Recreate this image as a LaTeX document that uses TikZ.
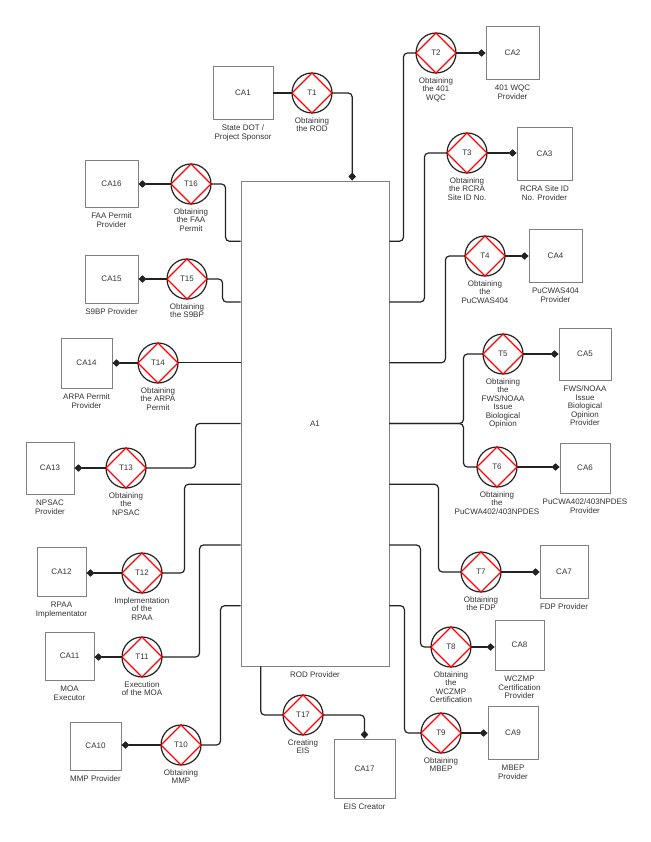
\documentclass[tikz,border=0pt]{standalone}
\usepackage{fontspec}
\setmainfont{Liberation Sans}
\usepackage{tikz}
\usetikzlibrary{calc,positioning}
\usetikzlibrary{arrows.meta}
\usepackage{xcolor}

\begin{document}
\begin{tikzpicture}[x=1pt,y=-1pt,>={Diamond[length=8pt,width=7.5pt]}]

% colors
\definecolor{lineBlack}{HTML}{222222}
\definecolor{boxGray}{HTML}{808080}
\definecolor{textGray}{HTML}{333333}
\definecolor{diamondRed}{HTML}{FF0000}

\def\labelFont{\fontsize{8}{8.4}\selectfont}

\tikzset{
    agent/.style={draw=boxGray, line width=0.9pt, fill=white, text=textGray, font=\labelFont, inner sep=0pt},
    task/.style={circle, draw=lineBlack, line width=1.2pt, fill=white, minimum size=40pt, inner sep=0pt, outer sep=0pt, text=textGray, font=\labelFont},
    link/.style={lineBlack, line width=1.2pt, rounded corners=4pt},
    caption/.style={text=textGray, font=\labelFont, align=center, inner sep=1pt},
}

% page size, y runs downwards
\useasboundingbox (0,0) rectangle (650,842);

% task: circle with the red diamond inside
\newcommand\taskNode[4]{
    % #1 name, #2 x, #3 y, #4 caption
    \node[task] (#1) at (#2,#3) {#1};
    \draw[diamondRed, line width=1.2pt] (#1.north) -- (#1.east) -- (#1.south) -- (#1.west) -- cycle;
    \node[caption, below=3.5pt of #1] (#1text) {#4};
}
% agent: plain box with caption below
\newcommand\agentNode[6]{
    % #1 name, #2 x, #3 y, #4 width, #5 height, #6 caption
    \node[agent, minimum width=#4pt, minimum height=#5pt] (#1) at (#2,#3) {#1};
    \node[caption, below=4.5pt of #1] (#1text) {#6};
}

% main actor
\node[agent, minimum width=148pt, minimum height=485pt] (A1) at (315,423.5) {A1};
\node[caption, below=4pt of A1] (A1text) {ROD Provider};

% docking points on A1
\coordinate (A1top) at ($(A1.north west)!0.75!(A1.north east)$);
\coordinate (A1bottom) at ($(A1.south west)!0.135!(A1.south east)$);
\foreach \k in {1,...,7} {
    \coordinate (A1east\k) at ($(A1.north east)!\k/8!(A1.south east)$);
    \coordinate (A1west\k) at ($(A1.north west)!\k/8!(A1.south west)$);
}

% tasks
\taskNode{T1}{312}{93}{Obtaining\\the ROD}
\taskNode{T2}{436}{53}{Obtaining\\the 401\\WQC}
\taskNode{T3}{467}{153}{Obtaining\\the RCRA\\Site ID No.}
\taskNode{T4}{485}{256}{Obtaining\\the\\PuCWAS404}
\taskNode{T5}{503}{354}{Obtaining\\the\\FWS/NOAA\\Issue\\Biological\\Opinion}
\taskNode{T6}{497}{467}{Obtaining\\the\\PuCWA402/403NPDES}
\taskNode{T7}{481}{572}{Obtaining\\the FDP}
\taskNode{T8}{451}{647}{Obtaining\\the\\WCZMP\\Certification}
\taskNode{T9}{441}{733}{Obtaining\\MBEP}
\taskNode{T10}{181}{745}{Obtaining\\MMP}
\taskNode{T11}{142}{657}{Execution\\of the MOA}
\taskNode{T12}{142}{573}{Implementation\\of the\\RPAA}
\taskNode{T13}{126}{468}{Obtaining\\the\\NPSAC}
\taskNode{T14}{158}{363}{Obtaining\\the ARPA\\Permit}
\taskNode{T15}{187}{279}{Obtaining\\the S9BP}
\taskNode{T16}{191}{184}{Obtaining\\the FAA\\Permit}
\taskNode{T17}{303}{715}{Creating\\EIS}

% agents
\agentNode{CA1}{243}{92.5}{60}{53}{State DOT /\\Project Sponsor}
\agentNode{CA2}{512.5}{52.5}{53}{53}{401 WQC\\Provider}
\agentNode{CA3}{544.5}{153.5}{55}{53}{RCRA Site ID\\No. Provider}
\agentNode{CA4}{555.5}{255.5}{53}{53}{PuCWAS404\\Provider}
\agentNode{CA5}{585}{354}{52}{52}{FWS/NOAA\\Issue\\Biological\\Opinion\\Provider}
\agentNode{CA6}{585}{468}{50}{50}{PuCWA402/403NPDES\\Provider}
\agentNode{CA7}{564}{571.5}{48}{53}{FDP Provider}
\agentNode{CA8}{519.5}{645}{49}{50}{WCZMP\\Certification\\Provider}
\agentNode{CA9}{513}{732.5}{50}{53}{MBEP\\Provider}
\agentNode{CA10}{95.5}{746}{51}{48}{MMP Provider}
\agentNode{CA11}{69.5}{656}{49}{48}{MOA\\Executor}
\agentNode{CA12}{61.5}{571.5}{49}{49}{RPAA\\Implementator}
\agentNode{CA13}{50}{468}{48}{52}{NPSAC\\Provider}
\agentNode{CA14}{86.5}{363}{51}{50}{ARPA Permit\\Provider}
\agentNode{CA15}{111.5}{279}{53}{48}{S9BP Provider}
\agentNode{CA16}{111.5}{183.5}{53}{47}{FAA Permit\\Provider}
\agentNode{CA17}{364.5}{768.5}{61}{59}{EIS Creator}

% T1 hands the ROD to A1
\draw[link] (CA1.east |- T1.west) -- (T1.west);
\draw[link,->] (T1.east) -| (A1top);

% right side of A1
\draw[link] (A1east1) -- ++(14,0) |- (T2.west);
\draw[link] (A1east2) -- ++(35,0) |- (T3.west);
\draw[link] (A1east3) -- ++(56,0) |- (T4.west);
\draw[link] (A1east4) -- ++(74,0) |- (T5.west);
\draw[link] (A1east4) -- ++(74,0) |- (T6.west);
\draw[link] (A1east5) -- ++(49,0) |- (T7.west);
\draw[link] (A1east6) -- ++(31,0) |- (T8.west);
\draw[link] (A1east7) -- ++(15,0) |- (T9.west);

% left side of A1
\draw[link] (A1west1) -- ++(-15,0) |- (T16.east);
\draw[link] (A1west2) -- ++(-18,0) |- (T15.east);
\draw[link] (A1west3) -- (A1west3 -| T14.east);
\draw[link] (A1west4) -- ++(-45,0) |- (T13.east);
\draw[link] (A1west5) -- ++(-56,0) |- (T12.east);
\draw[link] (A1west6) -- ++(-41,0) |- (T11.east);
\draw[link] (A1west7) -- ++(-20,0) |- (T10.east);

% bottom of A1
\draw[link] (A1bottom) |- (T17.west);
\draw[link,->] (T17.east) -| (CA17.north);

% tasks to their agents
\foreach \t in {2,...,9} {
    \draw[link,->] (T\t.east) -- (T\t.east -| CA\t.west);
}
\foreach \t in {10,...,16} {
    \draw[link,->] (T\t.west) -- (T\t.west -| CA\t.east);
}

\end{tikzpicture}
\end{document}
